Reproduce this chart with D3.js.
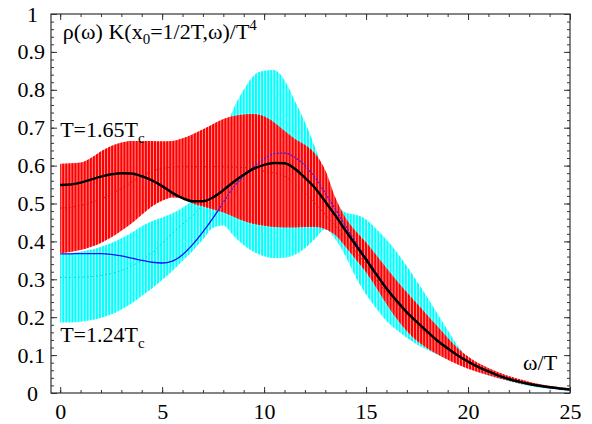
<!DOCTYPE html>
<html lang="en">
<head>
<meta charset="utf-8">
<title>rho(omega) K / T^4</title>
<script src="https://d3js.org/d3.v7.min.js"></script>
<style>
body { margin: 0; background: #fff; }
</style>
</head>
<body>
<script>

// omega/T grid the values below were read at
var omega = [0,0.5,1,1.5,2,2.5,3,3.5,4,4.5,5,5.5,6,6.5,7,7.5,8,8.5,9,9.5,10,
             10.5,11,11.5,12,12.5,13,13.5,14,14.5,15,15.5,16,16.5,17,17.5,18,18.5,19,19.5,20,
             20.5,21,21.5,22,22.5,23,23.5,24,24.5,25];

// T = 1.65 Tc : error band (red) and central curve (black)
var redHi = [0.605,0.606,0.608,0.620,0.638,0.652,0.661,0.665,0.665,0.665,0.664,0.665,0.672,0.683,0.696,0.710,0.723,0.731,0.735,0.736,0.730,
             0.714,0.692,0.671,0.655,0.632,0.588,0.515,0.462,0.427,0.398,0.364,0.330,0.297,0.266,0.236,0.206,0.176,0.146,0.118,0.096,
             0.079,0.066,0.055,0.045,0.037,0.030,0.024,0.019,0.015,0.012];
var redLo = [0.369,0.372,0.377,0.385,0.396,0.410,0.428,0.447,0.470,0.492,0.507,0.516,0.514,0.500,0.492,0.484,0.476,0.465,0.454,0.446,0.441,
             0.438,0.437,0.437,0.438,0.438,0.432,0.416,0.385,0.352,0.318,0.278,0.235,0.196,0.163,0.137,0.118,0.102,0.088,0.075,0.064,
             0.055,0.047,0.039,0.032,0.026,0.021,0.017,0.013,0.010,0.008];
var redMid = [0.488,0.490,0.495,0.502,0.512,0.525,0.540,0.556,0.572,0.585,0.592,0.596,0.597,0.597,0.597,0.597,0.597,0.596,0.595,0.590,0.585,
              0.580,0.572,0.552,0.527,0.500,0.470,0.440,0.408,0.373,0.338,0.300,0.265,0.233,0.204,0.178,0.155,0.133,0.114,0.096,0.080,
              0.066,0.055,0.045,0.036,0.029,0.023,0.018,0.014,0.011,0.008];
var black165 = [0.549,0.550,0.555,0.563,0.571,0.577,0.580,0.579,0.572,0.561,0.546,0.528,0.514,0.506,0.506,0.516,0.535,0.557,0.576,0.592,0.602,
                0.607,0.606,0.592,0.568,0.541,0.505,0.468,0.428,0.390,0.352,0.313,0.276,0.243,0.213,0.187,0.162,0.138,0.118,0.099,0.083,
                0.069,0.057,0.046,0.037,0.030,0.024,0.019,0.015,0.012,0.009];

// T = 1.24 Tc : error band (cyan) and central curve (blue)
var cyanHi = [0.367,0.369,0.373,0.378,0.386,0.396,0.408,0.423,0.440,0.453,0.463,0.474,0.489,0.510,0.550,0.610,0.680,0.750,0.800,0.838,0.850,
              0.852,0.825,0.772,0.715,0.648,0.575,0.505,0.476,0.470,0.458,0.433,0.405,0.372,0.335,0.294,0.253,0.209,0.166,0.124,0.094,
              0.074,0.060,0.049,0.040,0.032,0.026,0.021,0.017,0.014,0.011];
var cyanLo = [0.186,0.186,0.188,0.192,0.198,0.207,0.220,0.236,0.256,0.276,0.298,0.322,0.348,0.375,0.405,0.436,0.442,0.415,0.390,0.372,0.361,
              0.356,0.357,0.365,0.382,0.407,0.432,0.405,0.360,0.305,0.260,0.223,0.190,0.166,0.146,0.128,0.114,0.101,0.090,0.079,0.068,
              0.056,0.046,0.038,0.031,0.024,0.019,0.014,0.011,0.008,0.006];
var cyanMid = [0.305,0.305,0.306,0.307,0.310,0.315,0.323,0.335,0.350,0.370,0.395,0.422,0.445,0.468,0.495,0.525,0.560,0.590,0.610,0.625,0.632,
               0.632,0.625,0.610,0.590,0.565,0.530,0.490,0.445,0.400,0.360,0.320,0.282,0.248,0.217,0.190,0.165,0.141,0.120,0.100,0.084,
               0.070,0.058,0.047,0.038,0.030,0.024,0.019,0.015,0.012,0.009];
var blue124 = [0.367,0.367,0.368,0.368,0.368,0.366,0.362,0.356,0.350,0.345,0.343,0.348,0.365,0.392,0.425,0.462,0.503,0.543,0.572,0.598,0.618,
               0.631,0.633,0.622,0.600,0.568,0.527,0.485,0.440,0.397,0.357,0.317,0.279,0.245,0.214,0.187,0.162,0.138,0.117,0.098,0.082,
               0.068,0.056,0.045,0.036,0.029,0.023,0.018,0.014,0.011,0.008];

var xTicks = [0,5,10,15,20,25];
var yTicks = [0,0.1,0.2,0.3,0.4,0.5,0.6,0.7,0.8,0.9,1];
var yLabels = ["0","0.1","0.2","0.3","0.4","0.5","0.6","0.7","0.8","0.9","1"];

var W = 592, H = 424;
var margin = {top: 14, right: 22, bottom: 31, left: 51};
var serif = "'Liberation Serif', 'Times New Roman', serif";

var x = d3.scaleLinear().domain([-0.45, 25]).range([margin.left, W - margin.right]);
var y = d3.scaleLinear().domain([0, 1]).range([H - margin.bottom, margin.top]);

var svg = d3.select("body").append("svg")
	.attr("width", W)
	.attr("height", H);

var defs = svg.append("defs");

function band(lo, hi) {
	return d3.area()
		.x(function(d, i) { return x(omega[i]); })
		.y0(function(d, i) { return y(lo[i]); })
		.y1(function(d, i) { return y(hi[i]); })
		.curve(d3.curveMonotoneX)(omega);
}
var line = d3.line()
	.x(function(d, i) { return x(omega[i]); })
	.y(function(d) { return y(d); })
	.curve(d3.curveMonotoneX);

// the error bars are dense vertical strokes, one every 0.15 in omega/T,
// cut to the band outline
var barPos = d3.range(0, 25.01, 0.15);
function errorBars(id, lo, hi, col, gap, w) {
	defs.append("clipPath").attr("id", id)
		.append("path").attr("d", band(lo, hi));
	var g = svg.append("g").attr("clip-path", "url(#" + id + ")");
	g.append("path").attr("d", band(lo, hi)).attr("fill", gap);
	g.selectAll("line")
		.data(barPos)
		.enter()
		.append("line")
		.attr("x1", function(d) { return x(d); })
		.attr("x2", function(d) { return x(d); })
		.attr("y1", y(0))
		.attr("y2", y(1))
		.attr("stroke", col)
		.attr("stroke-width", w);
	return g;
}

// 1.24 Tc first, 1.65 Tc over it
errorBars("clipCyan", cyanLo, cyanHi, "#00ffff", "rgba(0,255,255,0.3)", 1.9);
svg.append("path").attr("d", line(cyanMid))
	.attr("fill", "none").attr("stroke", "#00c8d8").attr("stroke-width", 1).attr("stroke-dasharray", "1.5,3");
svg.append("path").attr("d", line(blue124))
	.attr("fill", "none").attr("stroke", "#1010ff").attr("stroke-width", 1.3);

var red = errorBars("clipRed", redLo, redHi, "#ff0000", "#ff9a9a", 2.1);
// blue curve shows through the gaps of the red bars
red.append("path").attr("d", line(blue124))
	.attr("fill", "none").attr("stroke", "#3a1cff").attr("stroke-width", 1.4).attr("stroke-dasharray", "2,1.5");
red.append("path").attr("d", line(redMid))
	.attr("fill", "none").attr("stroke", "#c41010").attr("stroke-width", 1).attr("stroke-dasharray", "1.5,3");

svg.append("path").attr("d", line(black165))
	.attr("fill", "none").attr("stroke", "#000").attr("stroke-width", 2.5);

// ticks on all four sides, pointing in
var y0 = y(0), y1 = y(1), x0 = x.range()[0], x1 = x.range()[1];
function ticks(axis, tx, ty, labels) {
	var g = svg.append("g").attr("transform", "translate(" + tx + "," + ty + ")").call(axis);
	g.select(".domain").remove();
	g.selectAll("line").attr("stroke", "#333");
	if (!labels) g.selectAll("text").remove();
	g.selectAll("text")
		.style("font-family", serif)
		.style("font-size", "22px")
		.attr("fill", "#000");
	return g;
}
ticks(d3.axisBottom(x).tickValues(d3.range(0, 26, 1)).tickSize(-3).tickFormat(""), 0, y0);
ticks(d3.axisTop(x).tickValues(d3.range(0, 26, 1)).tickSize(-3).tickFormat(""), 0, y1);
ticks(d3.axisTop(x).tickValues(xTicks).tickSize(-6).tickFormat(""), 0, y1);
ticks(d3.axisLeft(y).tickValues(d3.range(0, 1.001, 0.02)).tickSize(-3).tickFormat(""), x0, 0);
ticks(d3.axisRight(y).tickValues(d3.range(0, 1.001, 0.02)).tickSize(-3).tickFormat(""), x1, 0);
ticks(d3.axisRight(y).tickValues(yTicks).tickSize(-6).tickFormat(""), x1, 0);

ticks(d3.axisBottom(x).tickValues(xTicks).tickSize(-6).tickPadding(10), 0, y0, true);

var yl = ticks(d3.axisLeft(y).tickValues(yTicks).tickSize(-6).tickPadding(6)
	.tickFormat(function(d, i) { return yLabels[i]; }), x0, 0, true);
yl.selectAll("text")
	.attr("dx", function(d, i) { return yLabels[i].length == 1 ? -7 : 0; });

// frame
svg.append("rect")
	.attr("x", x0).attr("y", y1)
	.attr("width", x1 - x0).attr("height", y0 - y1)
	.attr("fill", "none").attr("stroke", "#333").attr("stroke-width", 1.2);

// labels
function label(px, py) {
	return svg.append("text")
		.attr("x", px).attr("y", py)
		.style("font-family", serif)
		.style("font-size", "22px");
}
var title = label(x(0.13), y(0.935));
title.append("tspan").text("\u03c1(\u03c9) K(x");
title.append("tspan").style("font-size", "15px").attr("dy", 5).text("0");
title.append("tspan").attr("dy", -5).text("=1/2T,\u03c9)/T");
title.append("tspan").style("font-size", "15px").attr("dy", -9).text("4");

function tempLabel(t, v) {
	var lab = label(x(0), y(v));
	lab.append("tspan").text("T=" + t + "T");
	lab.append("tspan").style("font-size", "15px").attr("dy", 6).text("c");
}
tempLabel("1.65", 0.675);
tempLabel("1.24", 0.135);

label(x(24.37), y(0.06))
	.attr("text-anchor", "end")
	.text("\u03c9/T");

</script>
</body>
</html>
